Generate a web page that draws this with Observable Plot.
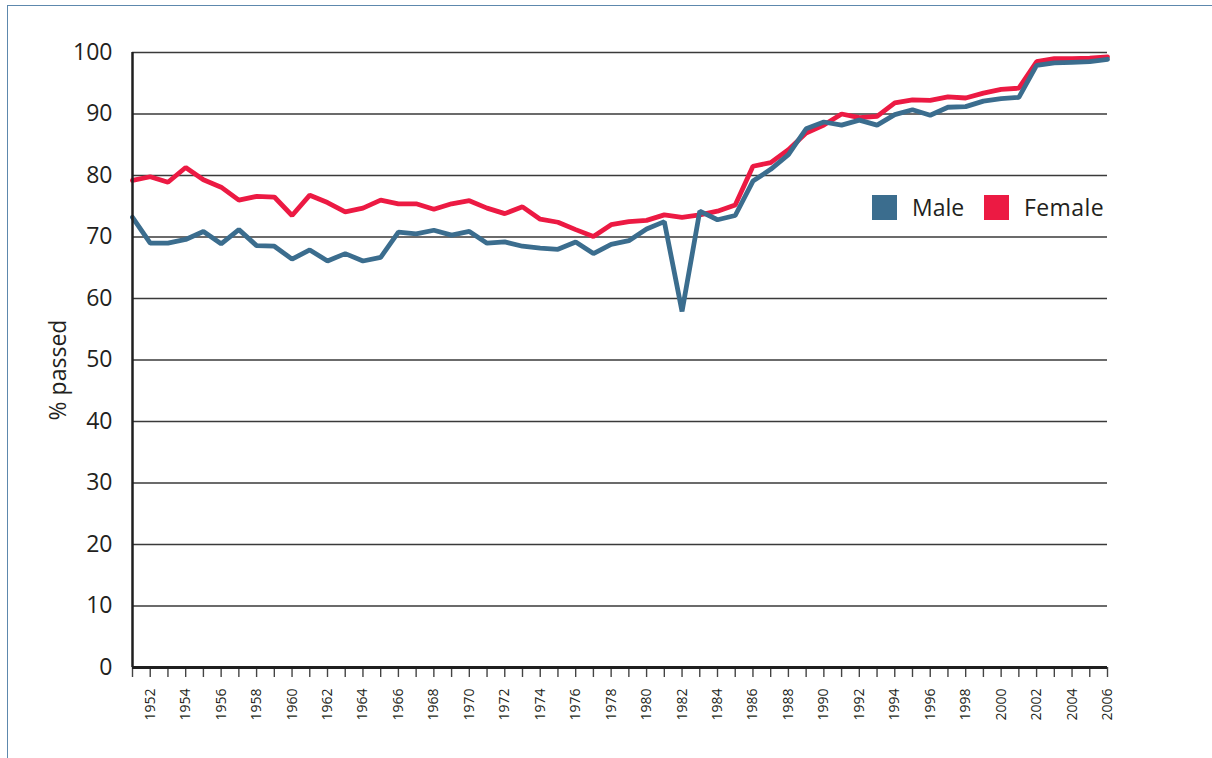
<!DOCTYPE html>
<html>
<head>
<meta charset="utf-8">
<script src="https://cdn.jsdelivr.net/npm/d3@7"></script>
<script src="https://cdn.jsdelivr.net/npm/@observablehq/plot@0.6"></script>
<style>
  html, body { margin: 0; padding: 0; background: #fff; }
  body { width: 1212px; height: 758px; position: relative; overflow: hidden; font-family: "Open Sans", sans-serif; color: #231f20; }
  #frame { position: absolute; left: 7px; top: 5px; right: -10px; bottom: -10px; border-left: 1.5px solid #5d88ad; border-top: 1.5px solid #5d88ad; pointer-events: none; }
  #chart { position: absolute; left: 0; top: 0; }
  .ylab { position: absolute; left: 57px; top: 370px; transform: translate(-50%, -50%) rotate(-90deg); font-size: 23px; white-space: nowrap; }
  .legend { position: absolute; top: 195px; font-size: 23px; line-height: 25px; display: flex; align-items: center; }
  .legend .sw { width: 25px; height: 25px; margin-right: 15px; }
</style>
</head>
<body>
<div id="frame"></div>
<div id="chart"></div>
<div class="ylab">% passed</div>
<div class="legend" style="left:872px"><div class="sw" style="background:#3b6d8e"></div><span>Male</span></div>
<div class="legend" style="left:984px"><div class="sw" style="background:#ec1a43"></div><span style="letter-spacing:0.4px">Female</span></div>
<script>
const years = [1951,1952,1953,1954,1955,1956,1957,1958,1959,1960,1961,1962,1963,1964,1965,1966,1967,1968,1969,1970,1971,1972,1973,1974,1975,1976,1977,1978,1979,1980,1981,1982,1983,1984,1985,1986,1987,1988,1989,1990,1991,1992,1993,1994,1995,1996,1997,1998,1999,2000,2001,2002,2003,2004,2005,2006];
const male = [73.2,69.0,69.0,69.6,70.9,68.9,71.2,68.6,68.5,66.4,67.9,66.1,67.3,66.1,66.7,70.8,70.5,71.1,70.3,70.9,69.0,69.2,68.5,68.2,68.0,69.2,67.3,68.8,69.4,71.3,72.5,57.9,74.2,72.8,73.5,79.1,81.0,83.4,87.6,88.7,88.2,89.0,88.2,89.9,90.7,89.8,91.1,91.2,92.1,92.5,92.7,97.9,98.3,98.4,98.5,98.9];
const female = [79.2,79.8,78.9,81.3,79.3,78.1,76.0,76.6,76.5,73.5,76.8,75.6,74.1,74.7,76.0,75.4,75.4,74.5,75.4,75.9,74.7,73.8,74.9,72.9,72.4,71.2,70.1,72.0,72.5,72.7,73.6,73.2,73.6,74.2,75.2,81.5,82.1,84.2,86.9,88.2,90.0,89.4,89.6,91.8,92.3,92.2,92.8,92.6,93.4,94.0,94.2,98.5,99.0,99.0,99.1,99.3];
const yTicks = [0,10,20,30,40,50,60,70,80,90,100];
const gridTicks = [10,20,30,40,50,60,70,80,90,100];
const xLabelYears = [1952,1954,1956,1958,1960,1962,1964,1966,1968,1970,1972,1974,1976,1978,1980,1982,1984,1986,1988,1990,1992,1994,1996,1998,2000,2002,2004,2006];

const maleRows = years.map((y, i) => ({year: y, value: male[i]}));
const femaleRows = years.map((y, i) => ({year: y, value: female[i]}));

const chart = Plot.plot({
  width: 1212,
  height: 758,
  marginLeft: 132,
  marginRight: 105,
  marginTop: 52,
  marginBottom: 91,
  style: {fontFamily: "'Open Sans', sans-serif", color: "#231f20", background: "transparent"},
  x: {domain: [1951, 2006]},
  y: {domain: [0, 100]},
  marks: [
    Plot.ruleY(gridTicks, {stroke: "#3a3a3a", strokeWidth: 1.3}),
    Plot.axisY({ticks: yTicks, tickSize: 0, tickPadding: 20, label: null, fontSize: 23, tickFormat: d => String(d), fill: "#231f20"}),
    Plot.axisX({ticks: years, tickSize: 10, tickFormat: () => "", label: null, stroke: "#444", strokeWidth: 1.4}),
    Plot.axisX({ticks: xLabelYears, tickSize: 0, tickPadding: 21, tickRotate: -90, label: null, fontSize: 14, tickFormat: d => String(d), fill: "#231f20"}),
    Plot.line(femaleRows, {x: "year", y: "value", stroke: "#ec1a43", strokeWidth: 4.8, strokeLinejoin: "miter"}),
    Plot.line(maleRows, {x: "year", y: "value", stroke: "#3b6d8e", strokeWidth: 4.8, strokeLinejoin: "miter"}),
    Plot.ruleY([0], {stroke: "#1f1f1f", strokeWidth: 3}),
    Plot.ruleX([1951], {stroke: "#1f1f1f", strokeWidth: 2.5})
  ]
});
document.getElementById("chart").appendChild(chart);
</script>
</body>
</html>
